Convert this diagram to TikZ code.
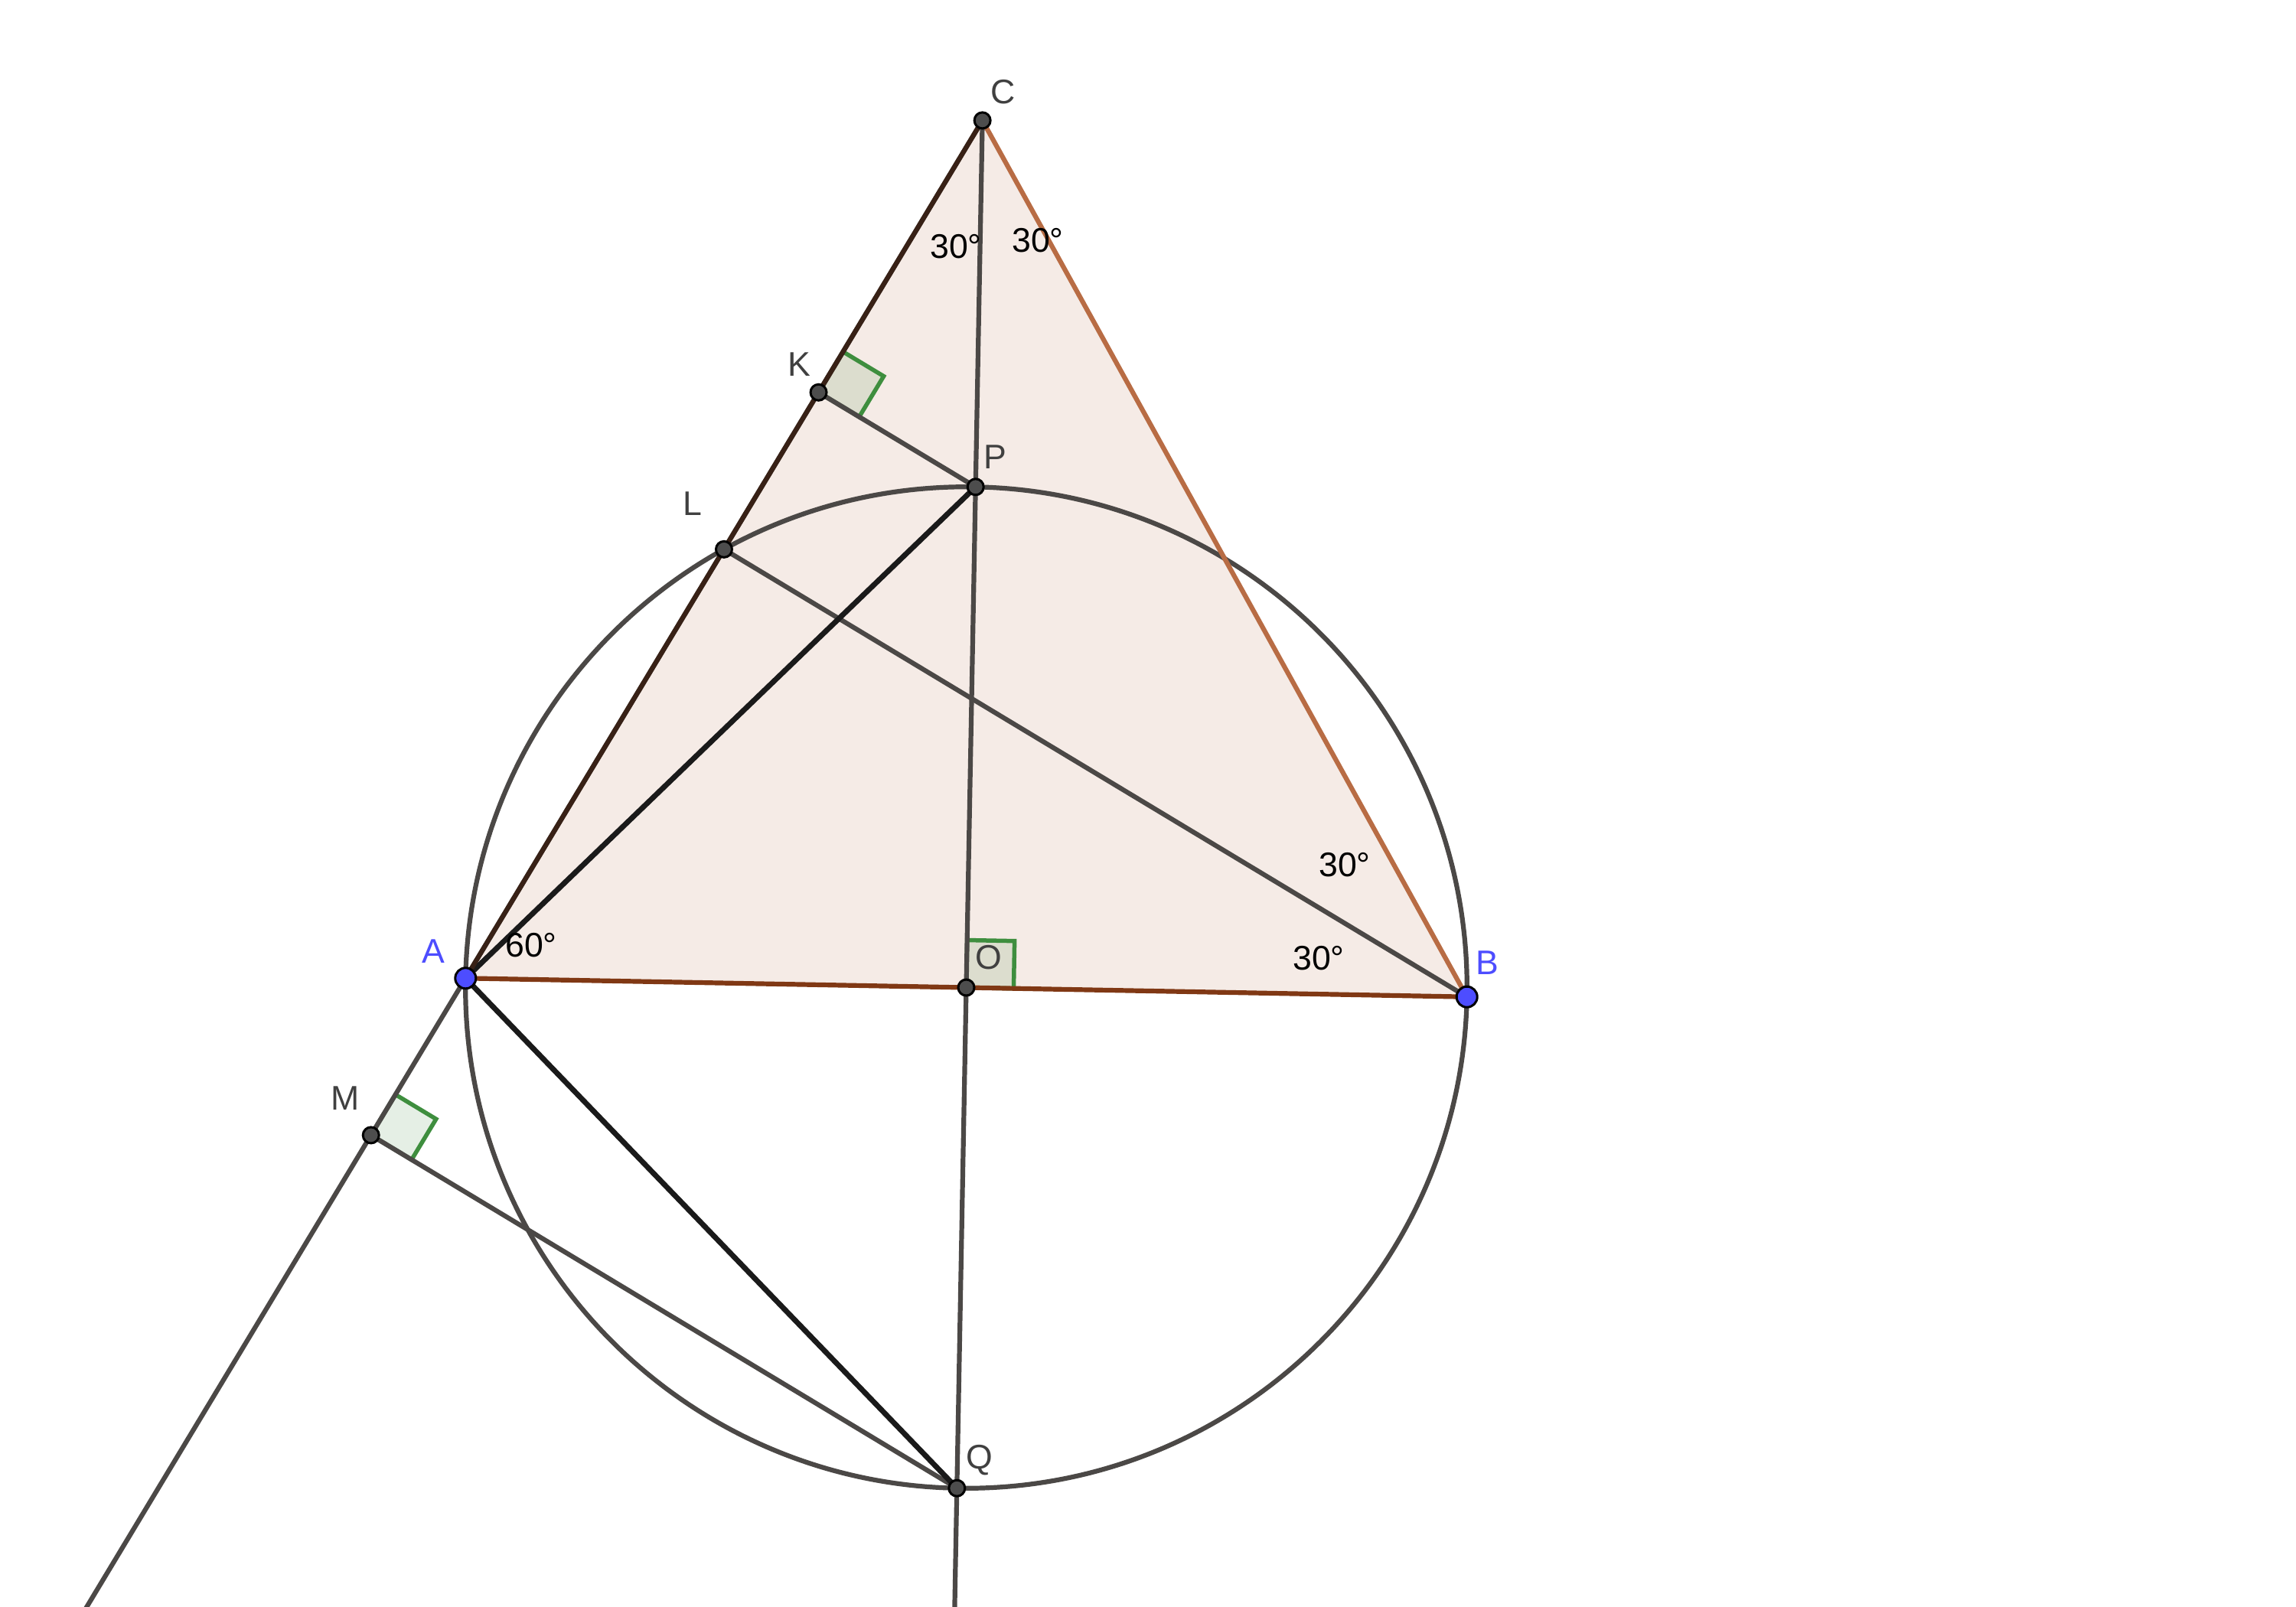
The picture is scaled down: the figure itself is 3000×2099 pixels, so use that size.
\documentclass[tikz,border=0pt]{standalone}
\usepackage{fontspec}
\setmainfont{Liberation Sans}
\usetikzlibrary{calc}
\definecolor{fillpink}{RGB}{245,235,230}
\definecolor{sideCA}{RGB}{56,33,22}
\definecolor{sideCB}{RGB}{184,108,68}
\definecolor{sideAB}{RGB}{128,56,20}
\definecolor{linegray}{RGB}{75,72,70}
\definecolor{lineblack}{RGB}{26,26,26}
\definecolor{markgreen}{RGB}{62,142,62}
\definecolor{markfill}{RGB}{0,100,0}
\definecolor{dotgray}{RGB}{77,77,77}
\definecolor{ptblue}{RGB}{77,77,255}
\definecolor{lblgray}{RGB}{64,64,64}
\begin{document}
\begin{tikzpicture}[x=0.1mm,y=-0.1mm,
  lbl/.style={font=\fontsize{12.7}{15}\selectfont, inner sep=0pt, text=lblgray},
  bluelbl/.style={lbl, text=ptblue},
  ang/.style={font=\fontsize{12.7}{15}\selectfont, inner sep=0pt, text=black},
  gline/.style={draw=linegray, line width=0.62mm},
  bline/.style={draw=lineblack, line width=0.7mm},
  sideline/.style={line width=0.62mm},
  rmark/.style={draw=markgreen, fill=markfill, fill opacity=0.1, line width=0.55mm, line join=miter},
  gdot/.style={circle, fill=dotgray, draw=black, line width=0.3mm, minimum size=2.1mm, inner sep=0pt},
  bdot/.style={circle, fill=ptblue, draw=black, line width=0.3mm, minimum size=2.7mm, inner sep=0pt}]
\useasboundingbox (0,0) rectangle (3000,2099);
% points
\coordinate (A) at (608.3,1278.3);
\coordinate (B) at (1916.7,1302.7);
\coordinate (C) at ($(A)!1!60:(B)$);
\coordinate (O) at ($(A)!0.5!(B)$);
\coordinate (P) at ($(O)!1!90:(B)$);
\coordinate (Q) at ($(O)!1!-90:(B)$);
\coordinate (L) at ($(A)!0.5!(C)$);
\coordinate (K) at ($(A)!(P)!(C)$);
\coordinate (M) at ($(A)!(Q)!(C)$);
\coordinate (E1) at ($(C)!2!(A)$);
\coordinate (E2) at ($(C)!1.4!(Q)$);
% triangle fill
\fill[fillpink] (A) -- (B) -- (C) -- cycle;
% right angle marks
\coordinate (Ka) at ($(K)!6.2mm!(C)$);
\coordinate (Kb) at ($(K)!6.2mm!(P)$);
\filldraw[rmark] (K) -- (Ka) -- ($(Ka)+(Kb)-(K)$) -- (Kb) -- cycle;
\coordinate (Oa) at ($(O)!6.2mm!(B)$);
\coordinate (Ob) at ($(O)!6.2mm!(P)$);
\filldraw[rmark] (O) -- (Oa) -- ($(Oa)+(Ob)-(O)$) -- (Ob) -- cycle;
\coordinate (Ma) at ($(M)!6.2mm!(A)$);
\coordinate (Mb) at ($(M)!6.2mm!(Q)$);
\filldraw[rmark] (M) -- (Ma) -- ($(Ma)+(Mb)-(M)$) -- (Mb) -- cycle;
% circle
\draw[gline] let \p1 = ($(B)-(O)$), \n1 = {veclen(\x1,\y1)} in (O) circle[radius=\n1];
% long lines
\begin{scope}
\clip (0,0) rectangle (3000,2099);
\draw[gline] (C) -- (E1);
\draw[gline] (C) -- (E2);
\end{scope}
\draw[gline] (K) -- (P);
\draw[gline] (L) -- (B);
\draw[gline] (M) -- (Q);
\draw[bline] (A) -- (P);
\draw[bline] (A) -- (Q);
% triangle sides
\draw[sideline, draw=sideAB] (A) -- (B);
\draw[sideline, draw=sideCB] (B) -- (C);
\draw[sideline, draw=sideCA] (C) -- (A);
% points
\foreach \p in {C,K,P,L,O,M,Q} \node[gdot] at (\p) {};
\node[bdot] at (A) {};
\node[bdot] at (B) {};
% labels
\node[lbl] (lC) at (1311,120) {C};
\node[lbl] (lK) at (1044,476) {K};
\node[lbl] (lL) at (905,658) {L};
\node[lbl] (lM) at (451,1435) {M};
\node[lbl] (lQ) at (1280,1908) {Q};
\node[bluelbl] (lA) at (566,1243) {A};
\node[bluelbl] (lB) at (1943,1258) {B};
\node[lbl] (lP) at (1300,597) {P};
\node[lbl] (lO) at (1292,1251) {O};
% angle labels
\node[ang] at (1249,322) {30°};
\node[ang] at (1356,314) {30°};
\node[ang] at (1757,1130) {30°};
\node[ang] at (1723,1252) {30°};
\node[ang] at (694,1235) {60°};
\end{tikzpicture}
\end{document}
